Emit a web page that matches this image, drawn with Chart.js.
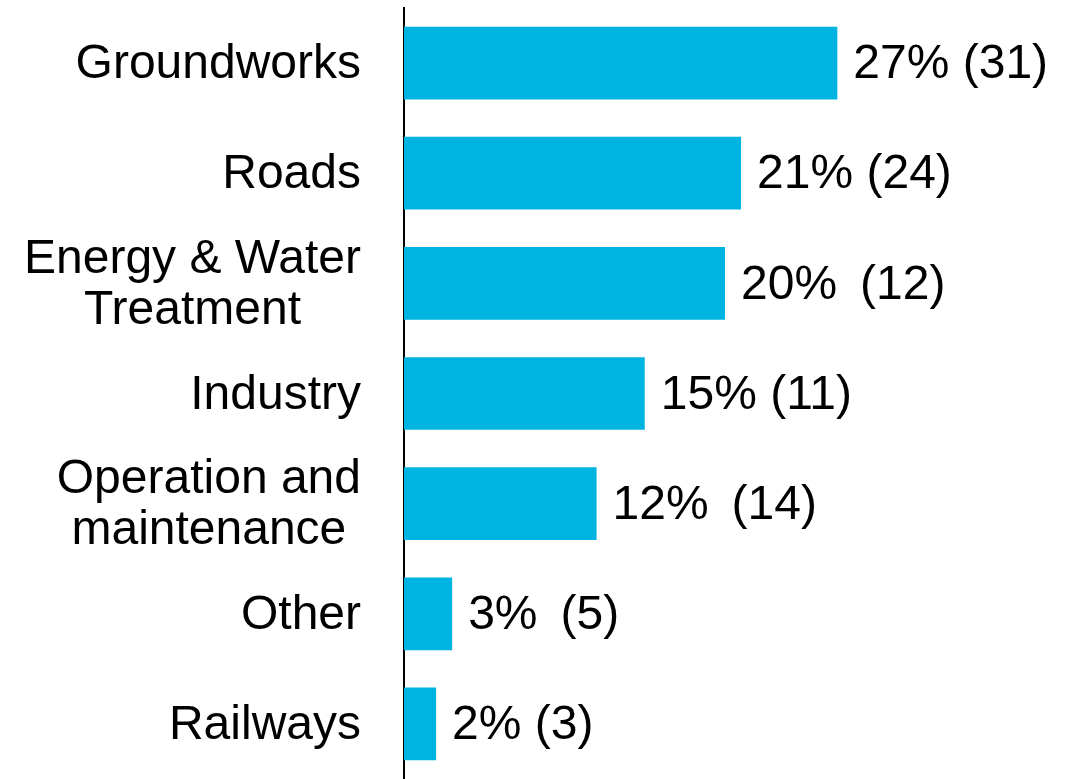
<!DOCTYPE html>
<html lang="en">
<head>
    <meta charset="UTF-8">
    <meta name="viewport" content="width=device-width, initial-scale=1.0">
    <title>Projects by sector</title>
    <script src="https://cdn.jsdelivr.net/npm/chart.js@4.4.8/dist/chart.umd.min.js"></script>
    <style>
        html, body { margin: 0; padding: 0; background: #fff; }
        .chart-container { width: 1076px; height: 779px; position: relative; }
    </style>
</head>
<body>
    <div class="chart-container">
        <canvas id="mainChart"></canvas>
    </div>

    <script>
        // sectors, top to bottom (multi-line names are arrays)
        const categories = [
            'Groundworks',
            'Roads',
            ['Energy & Water', 'Treatment'],
            'Industry',
            ['Operation and', 'maintenance'],
            'Other',
            'Railways'
        ];
        // share of total, %
        const shares = [27, 21, 20, 15, 12, 3, 2];
        // number of projects
        const counts = [31, 24, 12, 11, 14, 5, 3];
        // gap between percentage and count in each label
        const gaps = [' ', ' ', ' \u2009', ' ', ' \u2009', ' \u2009', ' '];

        const barColor = '#00B4E1';
        const labelFont = '48px "Liberation Sans", Arial, sans-serif';

        // draws sector names (right aligned block, lines centred) and value labels
        const labelPlugin = {
            id: 'labels',
            afterDatasetsDraw(chart) {
                const ctx = chart.ctx;
                const yScale = chart.scales.y;
                const meta = chart.getDatasetMeta(0);
                const lineHeight = 51;
                const rightEdge = chart.chartArea.left - 43;

                ctx.save();
                ctx.font = labelFont;
                ctx.fillStyle = '#000';
                ctx.textBaseline = 'middle';

                categories.forEach((cat, i) => {
                    const lines = Array.isArray(cat) ? cat : [cat];
                    const yMid = yScale.getPixelForValue(i);
                    const widest = Math.max(...lines.map(l => ctx.measureText(l).width));
                    const cx = rightEdge - widest / 2;
                    ctx.textAlign = 'center';
                    lines.forEach((line, j) => {
                        const y = yMid + (j - (lines.length - 1) / 2) * lineHeight + 2;
                        ctx.fillText(line, cx, y);
                    });

                    // value label after the bar end
                    const bar = meta.data[i];
                    ctx.textAlign = 'left';
                    ctx.fillText(shares[i] + '%' + gaps[i] + '(' + counts[i] + ')', bar.x + 16, bar.y + 2);
                });
                ctx.restore();
            }
        };

        const ctx = document.getElementById('mainChart').getContext('2d');
        const mainChart = new Chart(ctx, {
            type: 'bar',
            data: {
                labels: categories,
                datasets: [{
                    data: shares,
                    backgroundColor: barColor,
                    borderWidth: 0,
                    barPercentage: 0.66,
                    categoryPercentage: 1
                }]
            },
            options: {
                indexAxis: 'y',
                responsive: true,
                maintainAspectRatio: false,
                animation: false,
                layout: {
                    padding: { left: 396, top: 8, right: 0, bottom: 0 }
                },
                scales: {
                    x: {
                        display: false,
                        min: 0,
                        max: 41.87
                    },
                    y: {
                        grid: { display: false },
                        border: { display: true, color: '#000', width: 2 },
                        ticks: { display: false }
                    }
                },
                plugins: {
                    legend: { display: false },
                    tooltip: { enabled: false }
                }
            },
            plugins: [labelPlugin]
        });
    </script>
</body>
</html>
